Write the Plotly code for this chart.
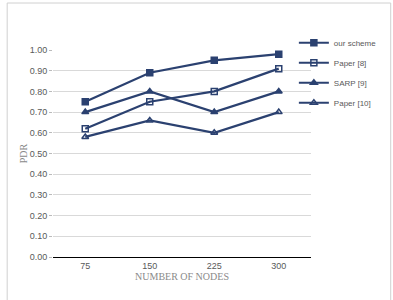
import plotly.graph_objects as go

nodes = ["75", "150", "225", "300"]
series_names = ["our scheme", "Paper [8]", "SARP [9]", "Paper [10]"]
our_scheme = [0.75, 0.89, 0.95, 0.98]
paper8 = [0.62, 0.75, 0.80, 0.91]
sarp9 = [0.70, 0.80, 0.70, 0.80]
paper10 = [0.58, 0.66, 0.60, 0.70]
y_ticks = [0.0, 0.1, 0.2, 0.3, 0.4, 0.5, 0.6, 0.7, 0.8, 0.9, 1.0]

navy = "#2B4170"
symbols = ["square", "square-open", "triangle-up", "triangle-up-open"]
values = [our_scheme, paper8, sarp9, paper10]

fig = go.Figure()
for i, (name, vals, sym) in enumerate(zip(series_names, values, symbols)):
    fig.add_trace(go.Scatter(
        x=nodes, y=vals, name=name, mode="lines+markers",
        line=dict(color=navy, width=2.2),
        marker=dict(symbol=sym, size=6, color=navy,
                    line=dict(color=navy, width=1.5)),
        legendgroup=str(i),
    ))

fig.update_layout(
    width=393, height=300,
    margin=dict(l=53, r=81, t=50, b=43),
    paper_bgcolor="white", plot_bgcolor="white",
    showlegend=True,
    legend=dict(x=0.93, y=1.105, xanchor="left", yanchor="top",
                font=dict(family="Liberation Sans", size=8, color="#595959"),
                tracegroupgap=1, bgcolor="rgba(0,0,0,0)", borderwidth=0),
    xaxis=dict(type="category", range=[-0.5, 3.5], showgrid=False, showline=True, linecolor="black",
               linewidth=1, ticks="", tickfont=dict(family="Liberation Sans", size=9, color="#595959"),
               title=dict(text="NUMBER OF NODES", standoff=2,
                          font=dict(family="Liberation Serif", size=10, color="#8a8a8a"))),
    yaxis=dict(range=[0, 1.0], tickvals=y_ticks, tickformat=".2f",
               showgrid=True, gridcolor="#d9d9d9", gridwidth=1, zeroline=False,
               showline=False, ticks="outside", ticklen=3, tickcolor="#bbbbbb",
               tickfont=dict(family="Liberation Sans", size=9, color="#595959"),
               title=dict(text="PDR", standoff=0,
                          font=dict(family="Liberation Serif", size=10, color="#8a8a8a"))),
)

fig.add_shape(type="rect", xref="paper", yref="paper",
              x0=(7 - 53) / 259, x1=(392 - 53) / 259,
              y0=-0.3, y1=(257 - 3) / 207,
              line=dict(color="#d0d0d0", width=1), fillcolor="rgba(0,0,0,0)", layer="below")

fig.write_html("out.html")
